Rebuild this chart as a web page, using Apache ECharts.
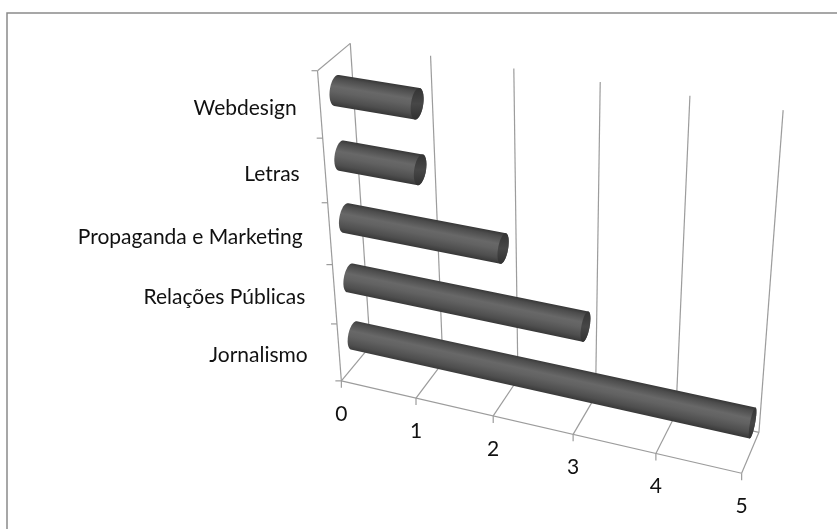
<!DOCTYPE html>
<html>
<head>
<meta charset="utf-8">
<script src="https://cdn.jsdelivr.net/npm/echarts@6/dist/echarts.min.js"></script>
<style>
html,body{margin:0;padding:0;background:#fff;}
#chart{width:837px;height:529px;}
</style>
</head>
<body>
<div id="chart"></div>
<script>
// ---- data ----
const categories = ['Jornalismo', 'Relações Públicas', 'Propaganda e Marketing', 'Letras', 'Webdesign']; // bottom -> top
const values = [5, 3, 2, 1, 1];
const valueTicks = [0, 1, 2, 3, 4, 5];
const valueTickLabels = ['0', '1', '2', '3', '4', '5'];

// ---- 3D frame geometry (layout): [valueX, categoryY, depthZ, screenX, screenY] ----
const FRAME_PTS = [
  [0,0,0,341.7,380],[1,0,0,416.7,398],[2,0,0,493.3,417],[3,0,0,573.3,436],[4,0,0,656,453.5],[5,0,0,741.7,471],
  [0,0,1,369.5,345],[1,0,1,442,361.5],[2,0,1,518.4,379],[3,0,1,596.4,397],[4,0,1,675.6,415],[5,0,1,758,433],
  [0,5,1,351,44],[1,5,1,430.7,55.7],[2,5,1,514.3,69],[3,5,1,600.7,82.3],[4,5,1,690,95],[5,5,1,782.7,109],
  [0,5,0,316.7,71.5],[0,4,0,322.1,138],[0,3,0,327.3,202],[0,2,0,332.4,265],[0,1,0,337.2,324]
];
const CX = 550, CY = 250, SC = 200;
function fitProjection(pts) {
  const N = 11;
  const A = Array.from({length: N}, () => new Array(N).fill(0));
  const b = new Array(N).fill(0);
  const add = (row, val) => {
    for (let i = 0; i < N; i++) { for (let j = 0; j < N; j++) A[i][j] += row[i] * row[j]; b[i] += row[i] * val; }
  };
  pts.forEach(([X, Y, Z, u0, v0]) => {
    const u = (u0 - CX) / SC, v = (v0 - CY) / SC;
    add([X, Y, Z, 1, 0, 0, 0, 0, -u * X, -u * Y, -u * Z], u);
    add([0, 0, 0, 0, X, Y, Z, 1, -v * X, -v * Y, -v * Z], v);
  });
  for (let c = 0; c < N; c++) {
    let piv = c;
    for (let r = c + 1; r < N; r++) if (Math.abs(A[r][c]) > Math.abs(A[piv][c])) piv = r;
    [A[c], A[piv]] = [A[piv], A[c]]; [b[c], b[piv]] = [b[piv], b[c]];
    for (let r = c + 1; r < N; r++) {
      const f = A[r][c] / A[c][c];
      for (let k = c; k < N; k++) A[r][k] -= f * A[c][k];
      b[r] -= f * b[c];
    }
  }
  const p = new Array(N).fill(0);
  for (let r = N - 1; r >= 0; r--) {
    let s = b[r];
    for (let k = r + 1; k < N; k++) s -= A[r][k] * p[k];
    p[r] = s / A[r][r];
  }
  return p;
}
const PM = fitProjection(FRAME_PTS);
function P(X, Y, Z) {
  const w = PM[8] * X + PM[9] * Y + PM[10] * Z + 1;
  return [ (PM[0] * X + PM[1] * Y + PM[2] * Z + PM[3]) / w * SC + CX,
           (PM[4] * X + PM[5] * Y + PM[6] * Z + PM[7]) / w * SC + CY ];
}

const LINE = {stroke: '#9c9c9c', lineWidth: 1.2};
const FONT_FAMILY = 'Lato';
const FONT_SIZE = 21;
const R3 = 0.215, ZC = 0.5;

function toModel(api, v, c) {
  const p = api.coord([v, c]);
  const p0 = api.coord([0, 0]);
  const unit = api.size([1, 1]);
  return [(p[0] - p0[0]) / unit[0], (p0[1] - p[1]) / unit[1] + 0.5];
}
function line(a, b) { return {type: 'line', shape: {x1: a[0], y1: a[1], x2: b[0], y2: b[1]}, style: LINE, silent: true}; }

function hull(points) {
  const pts = points.slice().sort((a, b) => a[0] - b[0] || a[1] - b[1]);
  const cross = (o, a, b) => (a[0] - o[0]) * (b[1] - o[1]) - (a[1] - o[1]) * (b[0] - o[0]);
  const lower = [], upper = [];
  for (const p of pts) { while (lower.length >= 2 && cross(lower[lower.length - 2], lower[lower.length - 1], p) <= 0) lower.pop(); lower.push(p); }
  for (let i = pts.length - 1; i >= 0; i--) { const p = pts[i]; while (upper.length >= 2 && cross(upper[upper.length - 2], upper[upper.length - 1], p) <= 0) upper.pop(); upper.push(p); }
  upper.pop(); lower.pop();
  return lower.concat(upper);
}

function renderFrame(params, api) {
  const X = toModel(api, api.value(0), 0)[0];
  const children = [];
  children.push(line(P(X, 0, 1), P(X, 5, 1)));   // back wall gridline
  children.push(line(P(X, 0, 0), P(X, 0, 1)));   // floor line
  const f = P(X, 0, 0);
  children.push(line(f, [f[0], f[1] + 7]));       // tick
  children.push({type: 'text', x: f[0], y: f[1] + 33, silent: true,
    style: {text: valueTickLabels[params.dataIndex], fill: '#111111', fontFamily: FONT_FAMILY, fontSize: FONT_SIZE, align: 'center', verticalAlign: 'middle'}});
  if (params.dataIndex === 0) {
    children.push(line(P(0, 0, 0), P(0, 5, 0)));   // category axis
    children.push(line(P(0, 5, 0), P(0, 5, 1)));   // left wall top
    children.push(line(P(0, 0, 0), P(5, 0, 0)));   // floor front
    children.push(line(P(0, 0, 1), P(5, 0, 1)));   // floor back
    for (let y = 0; y <= categories.length; y++) {
      const t = P(0, y, 0);
      children.push(line([t[0] - 6, t[1]], t));
    }
  }
  return {type: 'group', children};
}

function renderCatLabel(params, api) {
  const Y = toModel(api, 0, api.value(1))[1];
  const e = P(0, Y, 0);
  const off = 31.5 - 2 * (Y - 0.5);
  return {type: 'text', x: e[0] - off, y: e[1] + 3, silent: true,
    style: {text: categories[params.dataIndex], fill: '#111111', fontFamily: FONT_FAMILY, fontSize: FONT_SIZE, align: 'right', verticalAlign: 'middle'}};
}

function ellipse(X, Y, n) {
  const pts = [];
  for (let i = 0; i < n; i++) {
    const t = i / n * Math.PI * 2;
    pts.push(P(X, Y + R3 * Math.cos(t), ZC + R3 * Math.sin(t)));
  }
  return pts;
}

function renderBar(params, api) {
  const m = toModel(api, api.value(0), api.value(1));
  const X = m[0], Y = m[1];
  const e0 = ellipse(0, Y, 64), e1 = ellipse(X, Y, 64);
  const body = hull(e0.concat(e1));
  const c0 = P(0, Y, ZC), c1 = P(X, Y, ZC);
  let dx = c1[0] - c0[0], dy = c1[1] - c0[1];
  const L = Math.hypot(dx, dy); dx /= L; dy /= L;
  const nx = dy, ny = -dx; // pointing up
  const mx = (c0[0] + c1[0]) / 2, my = (c0[1] + c1[1]) / 2;
  let lo = Infinity, hi = -Infinity;
  body.forEach(p => { const s = (p[0] - c0[0]) * nx + (p[1] - c0[1]) * ny; lo = Math.min(lo, s); hi = Math.max(hi, s); });
  const grad = new echarts.graphic.LinearGradient(mx + nx * hi, my + ny * hi, mx + nx * lo, my + ny * lo, [
    {offset: 0, color: '#363636'},
    {offset: 0.12, color: '#4c4c4c'},
    {offset: 0.38, color: '#686868'},
    {offset: 0.55, color: '#626262'},
    {offset: 0.82, color: '#4e4e4e'},
    {offset: 1, color: '#373737'}
  ], true);
  const ce = P(X, Y, ZC);
  const capGrad = new echarts.graphic.LinearGradient(ce[0], ce[1] - 14, ce[0], ce[1] + 14, [
    {offset: 0, color: '#363636'}, {offset: 0.5, color: '#474747'}, {offset: 1, color: '#333333'}
  ], true);
  return {type: 'group', children: [
    {type: 'polygon', shape: {points: body}, style: {fill: grad}},
    {type: 'polygon', shape: {points: e1}, style: {fill: capGrad}}
  ]};
}

const chart = echarts.init(document.getElementById('chart'), null, {renderer: 'canvas'});
chart.setOption({
  backgroundColor: '#ffffff',
  animation: false,
  graphic: [{type: 'rect', shape: {x: 7, y: 13, width: 860, height: 540}, style: {fill: 'none', stroke: '#8a8a8a', lineWidth: 1.5}, silent: true, z: -10}],
  grid: {left: 100, right: 100, top: 100, bottom: 100, show: false},
  xAxis: {type: 'value', min: 0, max: 5, interval: 1, show: false},
  yAxis: {type: 'category', data: categories, show: false},
  series: [
    {type: 'custom', name: 'frame', clip: false, z: 1, renderItem: renderFrame, data: valueTicks.map(t => [t, 0])},
    {type: 'custom', name: 'labels', clip: false, z: 2, renderItem: renderCatLabel, data: categories.map((c, i) => [0, i])},
    {type: 'custom', name: 'bars', clip: false, z: 3, renderItem: renderBar, data: values.map((v, i) => [v, i])}
  ]
});
</script>
</body>
</html>
